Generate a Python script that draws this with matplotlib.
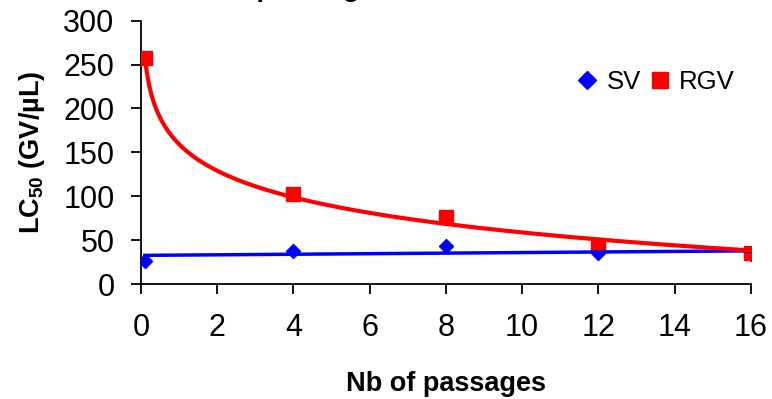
import numpy as np
import matplotlib.pyplot as plt

plt.rcParams['font.family'] = ['Liberation Sans', 'DejaVu Sans']
plt.rcParams['mathtext.fontset'] = 'custom'
plt.rcParams['mathtext.rm'] = 'Liberation Sans:bold'
plt.rcParams['mathtext.default'] = 'rm'

# passages (first point plotted slightly right of 0)
passages = [0.1, 4, 8, 12, 16]
sv_lc50 = [26, 38, 43, 35, 34]
rgv_lc50 = [258, 103, 76, 44, 35]

x_ticks = [0, 2, 4, 6, 8, 10, 12, 14, 16]
y_ticks = [0, 50, 100, 150, 200, 250, 300]


def main():
    fig = plt.figure(figsize=(7.72, 3.99), dpi=100)
    ax = fig.add_axes([0.1826, 0.2882, 0.79, 0.66])

    x = np.array(passages)

    # data points
    ax.plot(x, sv_lc50, linestyle='none', marker='D', markersize=7.5,
            color='#0000FF', label='SV', zorder=3)
    ax.plot(x, rgv_lc50, linestyle='none', marker='s', markersize=9.5,
            color='#FF0000', label='RGV', zorder=3)

    # trendlines: linear for SV, logarithmic for RGV
    xs = np.linspace(x.min(), x.max(), 400)
    lin = np.polyfit(x, sv_lc50, 1)
    ax.plot(xs, np.polyval(lin, xs), color='#0000FF', lw=2.5, zorder=4)
    lg = np.polyfit(np.log(x), rgv_lc50, 1)
    ax.plot(xs, np.polyval(lg, np.log(xs)), color='#FF0000', lw=3, zorder=5)

    ax.set_xlim(0, 16)
    ax.set_ylim(0, 300)
    ax.set_xticks(x_ticks)
    ax.set_yticks(y_ticks)
    ax.tick_params(direction='out', length=7, width=1.3, labelsize=22)
    ax.tick_params(axis='y', pad=12)
    ax.tick_params(axis='x', pad=14)
    for side in ['top', 'right']:
        ax.spines[side].set_visible(False)
    for side in ['left', 'bottom']:
        ax.spines[side].set_linewidth(1.3)

    ax.set_xlabel('Nb of passages', fontsize=19.5, fontweight='bold',
                  labelpad=20)
    ax.set_ylabel('LC$_{50}$ (GV/\u00b5L)', fontsize=19.5, fontweight='bold',
                  labelpad=12)

    ax.legend(loc='upper right', bbox_to_anchor=(0.991, 0.85), ncol=2,
              frameon=False, fontsize=18.5, handletextpad=0.35,
              columnspacing=0.35, handlelength=0.8, borderaxespad=0,
              markerscale=1.2)

    # title is mostly cut off at the top of the picture
    fig.text(0.2, 1.008, 'LC50 depending on time', fontsize=19,
             fontweight='bold', ha='left', va='baseline')

    fig.savefig('out.png', dpi=100)


if __name__ == "__main__":
    main()
